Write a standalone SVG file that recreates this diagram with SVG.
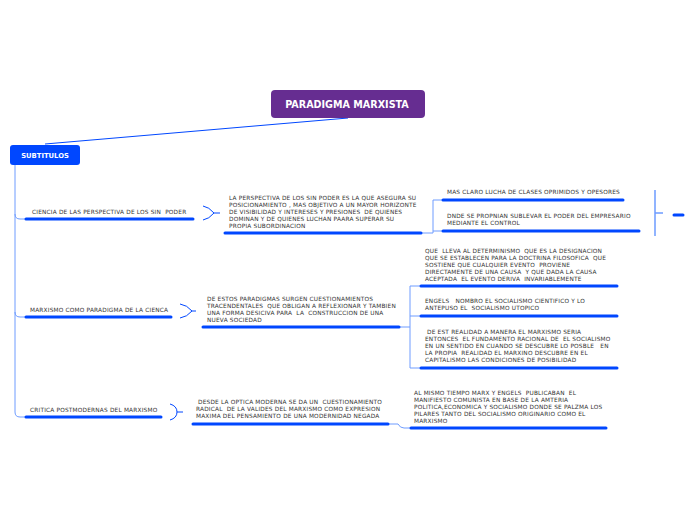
<svg xmlns="http://www.w3.org/2000/svg" width="696" height="520" viewBox="0 0 696 520">
<style>
.t{font-family:"DejaVu Sans","Verdana",sans-serif;font-size:5.8px;letter-spacing:0.2px;fill:#333;white-space:pre}
.ul{stroke:#0047ff;stroke-width:3;stroke-linecap:round;fill:none}
.c{stroke:#6e9cff;stroke-width:1;fill:none}
.cb{stroke:#0047ff;stroke-width:1;fill:none}
</style>
<rect width="696" height="520" fill="#fff"/>
<g id="connectors">
<line x1="348" y1="118" x2="45" y2="144" class="cb"/>
<path d="M15,165 V412 Q15,417 20,417 H25" class="c"/>
<path d="M15,214 Q15,219 20,219 H25" class="c"/>
<path d="M15,312 Q15,317 20,317 H25" class="c"/>
<path d="M203,206 Q209,207 214,213 Q209,219 203,220 M214,213 H220" class="cb" stroke-width="1.2"/>
<path d="M180,304 Q187,305 192,311 Q187,317 180,318 M192,311 H196" class="cb" stroke-width="1.5"/>
<path d="M170,404 Q177,406 177,412 Q177,418 170,420 M177,412 H183" class="cb" stroke-width="1.2"/>
<path d="M422,233 H433 V200 H442 M433,231 H442" class="c"/>
<path d="M400,327 H410 V286 H420 M410,316 H420 M410,327 V368 H420" class="c"/>
<path d="M389,424 H398 Q400,428 404,428 H410" class="c"/>
<path d="M655,190 V236 M655,213 H663" stroke="#6e9cff" stroke-width="1.5" fill="none"/>
</g>
<g id="root">
<rect x="271" y="90" width="154" height="28" rx="4" fill="#662d91"/>
<text x="347" y="108" text-anchor="middle" font-family="DejaVu Sans,sans-serif" font-weight="bold" font-size="9.6" fill="#fff">PARADIGMA MARXISTA</text>
</g>
<g id="subtitulos">
<rect x="10" y="145" width="70" height="20" rx="3" fill="#0047ff"/>
<text x="45" y="158" text-anchor="middle" font-family="DejaVu Sans,sans-serif" font-weight="bold" font-size="6.8" fill="#fff">SUBTITULOS</text>
</g>
<g id="n1">
<text class="t" x="32" y="214">CIENCIA DE LAS PERSPECTIVA DE LOS SIN  PODER</text>
<line x1="26" y1="219" x2="193" y2="219" class="ul"/>
</g>
<g id="n1a">
<text class="t" x="229"><tspan x="229" y="200">LA PERSPECTIVA DE LOS SIN PODER ES LA QUE ASEGURA SU</tspan><tspan x="229" y="207">POSICIONAMIENTO , MAS OBJETIVO A UN MAYOR HORIZONTE</tspan><tspan x="229" y="214">DE VISIBILIDAD Y INTERESES Y PRESIONES  DE QUIENES</tspan><tspan x="229" y="221">DOMINAN Y DE QUIENES LUCHAN PAARA SUPERAR SU</tspan><tspan x="229" y="228">PROPIA SUBORDINACION</tspan></text>
<line x1="225" y1="233" x2="421" y2="233" class="ul"/>
</g>
<g id="n1a1">
<text class="t" x="447" y="194">MAS CLARO LUCHA DE CLASES OPRIMIDOS Y OPESORES</text>
<line x1="443" y1="200" x2="623" y2="200" class="ul"/>
</g>
<g id="n1a2">
<text class="t"><tspan x="447" y="218">DNDE SE PROPNIAN SUBLEVAR EL PODER DEL EMPRESARIO</tspan><tspan x="447" y="225">MEDIANTE EL CONTROL</tspan></text>
<line x1="443" y1="231" x2="639" y2="231" class="ul"/>
</g>
<g id="n1a3">
<line x1="674" y1="215" x2="683" y2="215" class="ul"/>
</g>
<g id="n2">
<text class="t" x="30" y="312">MARXISMO COMO PARADIGMA DE LA CIENCA</text>
<line x1="26" y1="317" x2="171" y2="317" class="ul"/>
</g>
<g id="n2a">
<text class="t"><tspan x="207" y="301">DE ESTOS PARADIGMAS SURGEN CUESTIONAMIENTOS</tspan><tspan x="207" y="308">TRACENDENTALES  QUE OBLIGAN A REFLEXIONAR Y TAMBIEN</tspan><tspan x="207" y="315">UNA FORMA DESICIVA PARA  LA  CONSTRUCCION DE UNA</tspan><tspan x="207" y="322">NUEVA SOCIEDAD</tspan></text>
<line x1="203" y1="327" x2="399" y2="327" class="ul"/>
</g>
<g id="n2a1">
<text class="t"><tspan x="425" y="253">QUE  LLEVA AL DETERMINISMO  QUE ES LA DESIGNACION</tspan><tspan x="425" y="260">QUE SE ESTABLECEN PARA LA DOCTRINA FILOSOFICA  QUE</tspan><tspan x="425" y="267">SOSTIENE QUE CUALQUIER EVENTO  PROVIENE</tspan><tspan x="425" y="274">DIRECTAMENTE DE UNA CAUSA  Y QUE DADA LA CAUSA</tspan><tspan x="425" y="281">ACEPTADA  EL EVENTO DERIVA  INVARIABLEMENTE</tspan></text>
<line x1="421" y1="286" x2="617" y2="286" class="ul"/>
</g>
<g id="n2a2">
<text class="t"><tspan x="425" y="303">ENGELS   NOMBRO EL SOCIALISMO CIENTIFICO Y LO</tspan><tspan x="425" y="310">ANTEPUSO EL  SOCIALISMO UTOPICO</tspan></text>
<line x1="421" y1="316" x2="617" y2="316" class="ul"/>
</g>
<g id="n2a3">
<text class="t"><tspan x="425" y="334"> DE EST REALIDAD A MANERA EL MARXISMO SERIA</tspan><tspan x="425" y="341">ENTONCES  EL FUNDAMENTO RACIONAL DE  EL SOCIALISMO</tspan><tspan x="425" y="348">EN UN SENTIDO EN CUANDO SE DESCUBRE LO POSBLE   EN</tspan><tspan x="425" y="355">LA PROPIA  REALIDAD EL MARXINO DESCUBRE EN EL</tspan><tspan x="425" y="362">CAPITALISMO LAS CONDICIONES DE POSIBILIDAD</tspan></text>
<line x1="421" y1="368" x2="617" y2="368" class="ul"/>
</g>
<g id="n3">
<text class="t" x="30" y="412">CRITICA POSTMODERNAS DEL MARXISMO</text>
<line x1="26" y1="417" x2="161" y2="417" class="ul"/>
</g>
<g id="n3a">
<text class="t"><tspan x="196" y="404"> DESDE LA OPTICA MODERNA SE DA UN  CUESTIONAMIENTO</tspan><tspan x="196" y="411">RADICAL  DE LA VALIDES DEL MARXISMO COMO EXPRESION</tspan><tspan x="196" y="418">MAXIMA DEL PENSAMIENTO DE UNA MODERNIDAD NEGADA</tspan></text>
<line x1="193" y1="424" x2="388" y2="424" class="ul"/>
</g>
<g id="n3a1">
<text class="t"><tspan x="414" y="395">AL MISMO TIEMPO MARX Y ENGELS  PUBLICABAN  EL</tspan><tspan x="414" y="402">MANIFIESTO COMUNISTA EN BASE DE LA AMTERIA</tspan><tspan x="414" y="409">POLITICA,ECONOMICA Y SOCIALISMO DONDE SE PALZMA LOS</tspan><tspan x="414" y="416">PILARES TANTO DEL SOCIALISMO ORIGINARIO COMO EL</tspan><tspan x="414" y="423">MARXISMO</tspan></text>
<line x1="411" y1="428" x2="606" y2="428" class="ul"/>
</g>
</svg>
